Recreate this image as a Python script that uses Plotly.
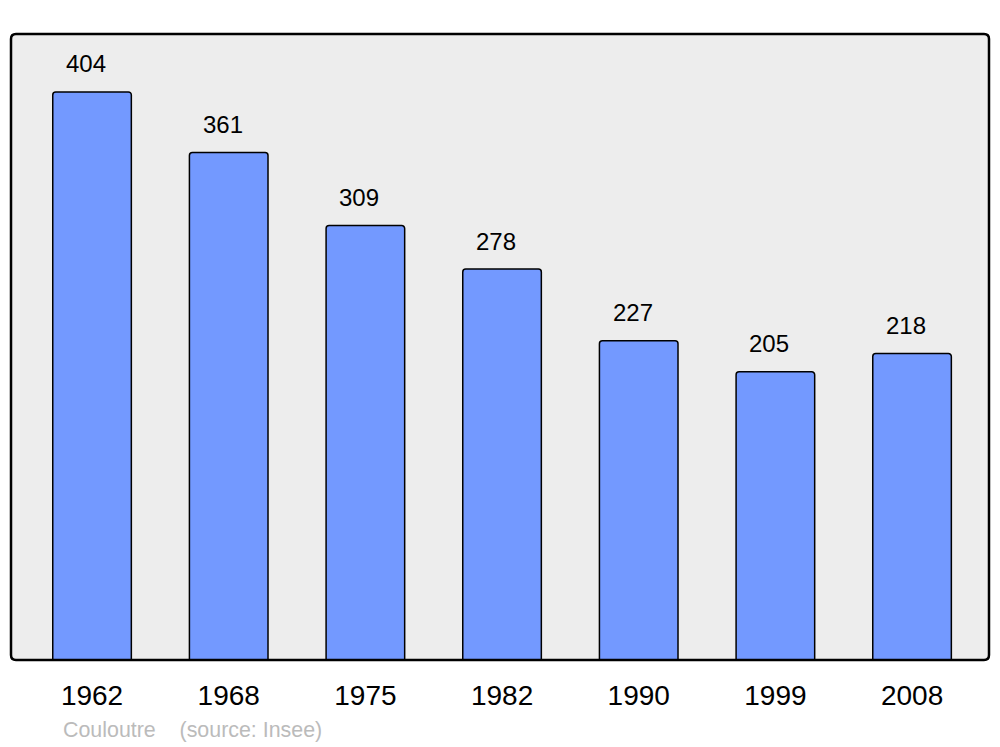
import plotly.graph_objects as go

# données
annees = ['1962', '1968', '1975', '1982', '1990', '1999', '2008']
population = [404, 361, 309, 278, 227, 205, 218]
commune = 'Couloutre'
source = '(source: Insee)'

positions = list(range(len(annees)))

fig = go.Figure()
fig.add_trace(go.Bar(
    x=positions, y=population, width=0.575,
    marker=dict(color='#7399FF', line=dict(color='#000000', width=1.5), cornerradius=3),
    hoverinfo='skip'))

for xi, val in zip(positions, population):
    fig.add_annotation(x=xi, y=val, text=str(val), showarrow=False,
                       xshift=-6, yshift=28, yanchor='middle',
                       font=dict(family='Liberation Sans, Arial', size=24, color='#000000'))

fig.add_annotation(xref='paper', yref='paper', x=0.051, y=-0.112, xanchor='left', yanchor='middle',
                   text=commune + '    ' + source, showarrow=False,
                   font=dict(family='Liberation Sans, Arial', size=21.4, color='#BBBBBB'))

# cadre arrondi
rx, ry = 5 / 978, 5 / 626
cadre = (f'M {rx},0 L {1 - rx},0 Q 1,0 1,{ry} L 1,{1 - ry} Q 1,1 {1 - rx},1 '
         f'L {rx},1 Q 0,1 0,{1 - ry} L 0,{ry} Q 0,0 {rx},0 Z')
fig.add_shape(type='path', xref='paper', yref='paper', path=cadre,
              line=dict(color='#000000', width=2.5), layer='above')

# la page a une marge de 8 px : on la compense
fig.update_layout(
    width=992, height=739,
    margin=dict(l=3, r=11, t=26, b=87),
    paper_bgcolor='#FFFFFF', plot_bgcolor='#EDEDED',
    showlegend=False,
    font=dict(family='Liberation Sans, Arial', color='#000000'),
    xaxis=dict(range=[-0.593, 6.563], tickvals=positions, ticktext=annees,
               showgrid=False, zeroline=False, showline=False, ticks='',
               ticklabelstandoff=16, tickfont=dict(size=28)),
    yaxis=dict(range=[0, 445.2], showgrid=False, zeroline=False, showline=False,
               showticklabels=False, ticks=''),
)

fig.write_html("out.html")
